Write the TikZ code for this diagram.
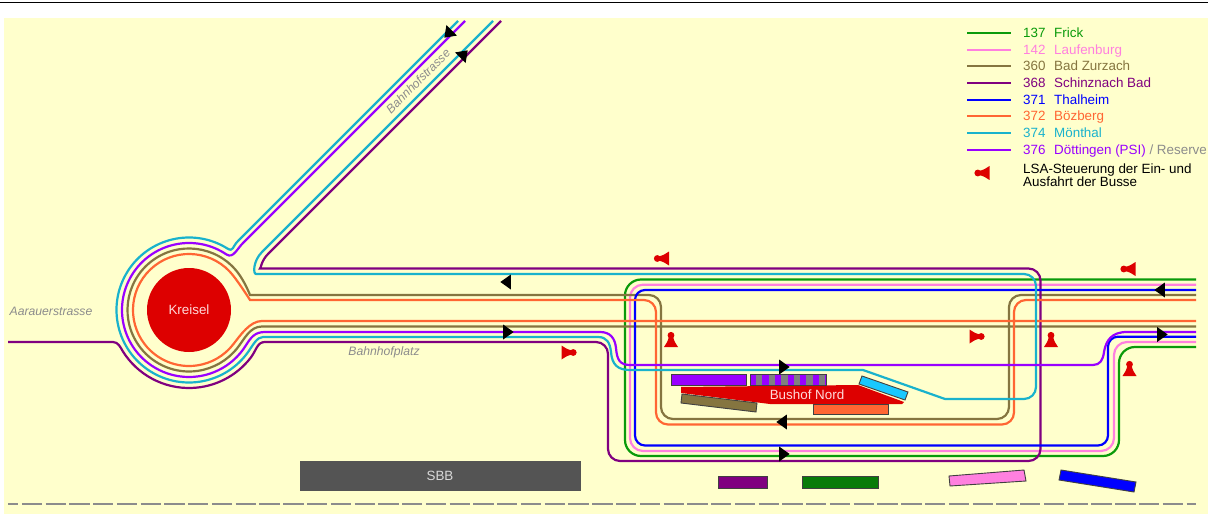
\documentclass[tikz,border=0pt]{standalone}
\usepackage{fontspec}
\setmainfont{Liberation Sans}
\usetikzlibrary{shapes.geometric}
\definecolor{grund}{HTML}{FFFFCC}
\definecolor{rot}{HTML}{DD0000}
\definecolor{gruen}{HTML}{0A9A0A}
\definecolor{rosa}{HTML}{FF80DF}
\definecolor{oliv}{HTML}{857540}
\definecolor{purpur}{HTML}{800080}
\definecolor{blau}{HTML}{0000FF}
\definecolor{orange}{HTML}{FF6633}
\definecolor{tuerkis}{HTML}{19B2CC}
\definecolor{violett}{HTML}{9900FF}
\definecolor{grau}{HTML}{8C8C8C}
\definecolor{haltgrau}{HTML}{808080}
\definecolor{haltcyan}{HTML}{19C8FF}
\begin{document}
\begin{tikzpicture}[
    x=1pt,
    y=-1pt,
    font=\fontsize{13.4}{12.8}\selectfont,
    linie/.style={line width=2.2pt},
    lin137/.style={linie, draw=gruen, rounded corners=16pt},
    lin142/.style={linie, draw=rosa, rounded corners=13pt},
    lin360/.style={linie, draw=oliv},
    lin368/.style={linie, draw=purpur},
    lin371/.style={linie, draw=blau, rounded corners=10pt},
    lin372/.style={linie, draw=orange},
    lin374/.style={linie, draw=tuerkis},
    lin376/.style={linie, draw=violett},
    halt/.style={draw=black!75, line width=0.9pt},
    fahrt/.style={isosceles triangle, isosceles triangle stretches, fill=black,
        inner sep=0pt, minimum width=15pt, minimum height=10.5pt},
    strasse/.style={font=\fontsize{12.2}{14}\selectfont\itshape, text=grau},
    lsa/.pic={
        \fill[rot] (-7,7.5) -- (7,7.5) .. controls (4.5,4.5) and (3,1) .. (2,-3)
            -- (-2,-3) .. controls (-3,1) and (-4.5,4.5) .. (-7,7.5);
        \fill[rot] (0,-4.2) circle (3.4);
    }
]
\useasboundingbox (0,0) rectangle (1208,516);
\draw[black, line width=0.6pt] (0,2) -- (1208,2);
\fill[grund] (4,18) rectangle (1208,514);
\node[circle, fill=rot, minimum size=84pt, inner sep=0pt, text=red!15!white] (kreisel) at (189,310) {Kreisel};

\draw[lin137] (1196,279.5) -- (625,279.5) -- (625,456) -- (1119,456) -- (1119,347) -- (1196,347);
\draw[lin142] (1196,284.7) -- (630,284.7) -- (630,451) -- (1114,451) -- (1114,342) -- (1196,342);
\draw[lin360] (1196,295) [rounded corners=12pt] -- (1009,295) -- (1009,419) -- (661,419) -- (661,295) -- (262,295) [sharp corners]
    .. controls +(-12,0) and +(52:12) .. ([shift={(-38:61.5)}]kreisel.center)
    arc[start angle=-38, end angle=-322, radius=61.5]
    .. controls +(-52:12) and +(-12,0) .. (262,326.5) -- (1196,326.5);
\draw[lin368] (8,342) -- (113,342) .. controls +(5,0) and +(240:5) .. ([shift={(148:78)}]kreisel.center)
    arc[start angle=148, end angle=38, radius=78]
    .. controls +(-52:10) and +(-8,0) .. (265,342) [rounded corners=12pt]
    -- (608,342) -- (608,461) -- (1040.5,461) -- (1040.5,268.5) -- (272,268.5) [sharp corners]
    .. controls (261,268.5) and (261,261) .. (268,254) -- (501,21);
\draw[lin371] (1196,290) -- (635,290) -- (635,445.5) -- (1108,445.5) -- (1108,336.7) -- (1196,336.7);
\draw[lin372] (1196,300) [rounded corners=12pt] -- (1014,300) -- (1014,424.5) -- (656,424.5) -- (656,300) -- (262,300) [sharp corners]
    .. controls +(-12,0) and +(52:12) .. ([shift={(-38:56)}]kreisel.center)
    arc[start angle=-38, end angle=-322, radius=56]
    .. controls +(-52:12) and +(-12,0) .. (262,321) -- (1196,321);
\draw[lin374] (458,21) -- (238,241) .. controls +(135:8) and +(32:7) .. ([shift={(-58:72.5)}]kreisel.center)
    arc[start angle=-58, end angle=-325, radius=72.5]
    .. controls +(-55:8) and +(-6,0) .. (263,337) -- (598,337)
    .. controls (607,337) and (610,343) .. (611,352)
    .. controls (612,365) and (618,370) .. (630,370)
    -- (863,370) -- (945,399) [rounded corners=12pt] -- (1036,399) -- (1036,274) -- (268,274) [sharp corners]
    .. controls (253,274) and (253,261) .. (262,252) -- (493,21);
\draw[lin376] (465,21) -- (243,243) .. controls +(135:9) and +(32:8) .. ([shift={(-56:67)}]kreisel.center)
    arc[start angle=-56, end angle=-328, radius=67]
    .. controls +(-58:10) and +(-10,0) .. (265,332) -- (600,332)
    .. controls (610,332) and (615,338) .. (616,348)
    .. controls (617,360) and (620,365) .. (630,365)
    -- (1093,365) .. controls (1100,365) and (1103,360) .. (1104,352)
    .. controls (1106,340) and (1112,332) .. (1127,332) -- (1196,332);

\node[fahrt, rotate=180] (pfeilA) at (507,282) {};
\node[fahrt] (pfeilB) at (507,332) {};
\node[fahrt] (pfeilC) at (783,367) {};
\node[fahrt, rotate=180] (pfeilD) at (783,422) {};
\node[fahrt] (pfeilE) at (783,454) {};
\node[fahrt, rotate=180] (pfeilF) at (1161,290) {};
\node[fahrt] (pfeilG) at (1161,334.5) {};
\node[fahrt, rotate=225] (pfeilH) at (449,33) {};
\node[fahrt, rotate=45] (pfeilI) at (463,55) {};

\pic at (661.5,258.5) [rotate=90] {lsa};
\pic at (1128,269) [rotate=90] {lsa};
\pic at (569,352.5) [rotate=-90] {lsa};
\pic at (977,336.5) [rotate=-90] {lsa};
\pic at (671,339.5) {lsa};
\pic at (1051,339.5) {lsa};
\pic at (1129.5,368.5) {lsa};
\pic at (982,173) [rotate=90] {lsa};

\fill[rot] (681,387) -- (858,385) -- (904,402) -- (902,404) -- (770,404) -- (681,393) -- cycle;
\node[text=red!15!white] (bushof) at (807,395) {Bushof Nord};
\draw[halt, fill=violett] (671,374.3) rectangle (746,385);
\draw[halt, fill=violett] (750,374.3) rectangle (826,385);
\foreach \i in {0,...,5} {
    \fill[haltgrau] ({756+12.6*\i},374.8) rectangle +(6.3,9.7);
}
\draw[halt] (750,374.3) rectangle (826,385);
\draw[halt, fill=oliv] (682,394) -- (757,403) -- (756,412) -- (681,403) -- cycle;
\draw[halt, fill=orange] (813,404) rectangle (888,414.7);
\draw[halt, fill=haltcyan] (862,376) -- (908,392) -- (905,400) -- (859,384) -- cycle;
\draw[halt, fill=purpur] (718,476.5) rectangle (767,488);
\draw[halt, fill=gruen!80!black] (802,476.5) rectangle (878,488);
\draw[halt, fill=rosa] (949,476) -- (1024,470) -- (1026,481) -- (950,486) -- cycle;
\draw[halt, fill=blau] (1061,470) -- (1136,482) -- (1134,492) -- (1059,480) -- cycle;
\fill[black!67] (300,461) rectangle (581,491);
\node[text=white!85!black] (sbb) at (440,476) {SBB};
\draw[grau, line width=2.2pt, dash pattern=on 20.3pt off 3.47pt, dash phase=10pt] (8,504) -- (1196,504);

\node[strasse] (aarau) at (51,311) {Aarauerstrasse};
\node[strasse] (bahnhofplatz) at (384,352) {Bahnhofplatz};
\node[strasse, rotate=45] (bahnhofstrasse) at (418,81) {Bahnhofstrasse};

\foreach \nr/\y/\ziel/\farbe in {137/33/Frick/gruen, 142/49.7/Laufenburg/rosa, 360/66/Bad Zurzach/oliv,
    368/83/Schinznach Bad/purpur, 371/99.7/Thalheim/blau, 372/116/Bözberg/orange,
    374/133/Mönthal/tuerkis, 376/149.7/{Döttingen (PSI) \textcolor{grau}{/ Reserve}}/violett} {
    \draw[linie, draw=\farbe] (967,\y) -- (1011,\y);
    \node[anchor=base west, inner sep=0pt, text=\farbe] (nr\nr) at (1023,\y+4.5) {\nr};
    \node[anchor=base west, inner sep=0pt, text=\farbe] (ziel\nr) at (1054,\y+4.5) {\ziel};
}
\node[anchor=west, inner sep=0pt, align=left] (lsatext) at (1023,175.5) {LSA-Steuerung der Ein- und\\Ausfahrt der Busse};
\end{tikzpicture}
\end{document}
